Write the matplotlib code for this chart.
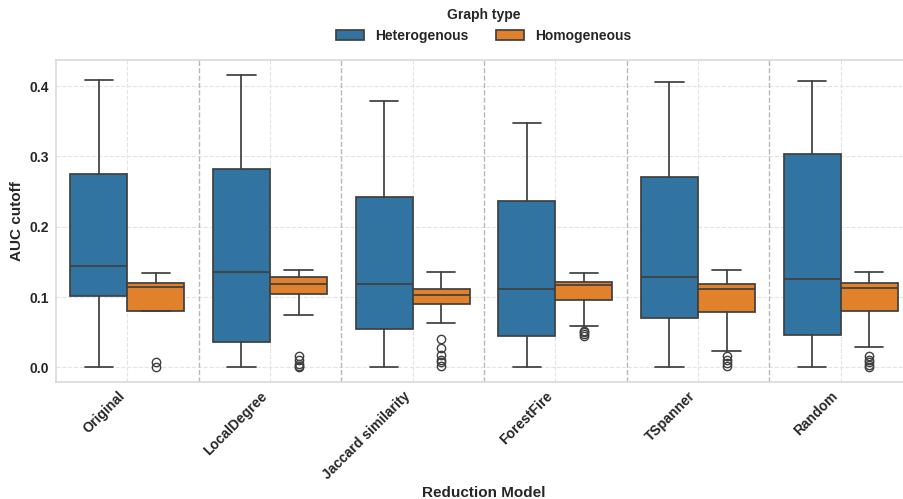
import matplotlib.pyplot as plt
import seaborn as sns

sns.set_style("whitegrid")
plt.rcParams['font.family'] = ['Liberation Sans', 'DejaVu Sans']

models = ["Original", "LocalDegree", "Jaccard similarity", "ForestFire", "TSpanner", "Random"]
graph_types = ["Heterogenous", "Homogeneous"]
colors = ["#3274a1", "#e1812c"]

# five-number summaries per model: (whislo, q1, med, q3, whishi)
hetero_stats = [
    (0.0, 0.101, 0.144, 0.275, 0.408),
    (0.0, 0.036, 0.136, 0.282, 0.415),
    (0.0, 0.055, 0.118, 0.242, 0.378),
    (0.0, 0.044, 0.112, 0.236, 0.348),
    (0.0, 0.070, 0.128, 0.270, 0.406),
    (0.0, 0.046, 0.126, 0.303, 0.407),
]
homo_stats = [
    (0.080, 0.080, 0.114, 0.120, 0.134),
    (0.074, 0.104, 0.118, 0.128, 0.138),
    (0.063, 0.090, 0.103, 0.112, 0.135),
    (0.059, 0.096, 0.117, 0.122, 0.134),
    (0.023, 0.079, 0.112, 0.119, 0.138),
    (0.029, 0.080, 0.113, 0.120, 0.135),
]
hetero_fliers = [[], [], [], [], [], []]
homo_fliers = [
    [0.0, 0.007],
    [0.0, 0.002, 0.005, 0.010, 0.016],
    [0.002, 0.007, 0.011, 0.017, 0.028, 0.040],
    [0.045, 0.047, 0.050, 0.052],
    [0.002, 0.006, 0.011, 0.016],
    [0.0, 0.003, 0.007, 0.011, 0.016],
]


def make_stats(summ, fliers):
    out = []
    for (lo, q1, med, q3, hi), fl in zip(summ, fliers):
        out.append(dict(whislo=lo, q1=q1, med=med, q3=q3, whishi=hi, fliers=fl))
    return out


fig = plt.figure(figsize=(9.04, 4.99), dpi=100)
ax = fig.add_axes([56 / 904, 117 / 499, 856 / 904, 322 / 499])

line_col = "#3f3f3f"
for k, (summ, fl) in enumerate([(hetero_stats, hetero_fliers), (homo_stats, homo_fliers)]):
    offset = -0.2 if k == 0 else 0.2
    pos = [i + offset for i in range(len(models))]
    ax.bxp(make_stats(summ, fl), positions=pos, widths=0.4, patch_artist=True,
           boxprops=dict(facecolor=colors[k], edgecolor=line_col, linewidth=1.25),
           medianprops=dict(color=line_col, linewidth=1.25),
           whiskerprops=dict(color=line_col, linewidth=1.25),
           capprops=dict(color=line_col, linewidth=1.25),
           flierprops=dict(marker='o', markerfacecolor='none', markeredgecolor=line_col,
                           markersize=6, markeredgewidth=1.0),
           capwidths=0.2, manage_ticks=False, zorder=3)

# separators between model groups
for i in range(len(models) - 1):
    ax.axvline(i + 0.5, color="#b8b8b8", linestyle="--", linewidth=1.0, zorder=1)

ax.set_xlim(-0.5, len(models) - 0.5)
ax.set_ylim(-0.0208, 0.437)
ax.set_xticks(range(len(models)))
ax.set_xticklabels(models, rotation=45, ha='right', fontweight='bold', fontsize=10)
ax.set_yticks([0.0, 0.1, 0.2, 0.3, 0.4])
ax.set_yticklabels(["0.0", "0.1", "0.2", "0.3", "0.4"], fontweight='bold', fontsize=10)
ax.tick_params(axis='both', length=0, pad=5)
ax.grid(True, linestyle='--', color='#e3e3e3', linewidth=0.8)
ax.set_axisbelow(True)
for s in ax.spines.values():
    s.set_color('#d9d9d9')
    s.set_linewidth(1.2)

ax.set_xlabel("Reduction Model", fontweight='bold', fontsize=11)
ax.xaxis.set_label_coords(0.5, -0.322)
ax.set_ylabel("AUC cutoff", fontweight='bold', fontsize=11)

handles = [plt.Rectangle((0, 0), 1, 1, facecolor=c, edgecolor=line_col, linewidth=1.25)
           for c in colors]
leg = ax.legend(handles, graph_types, title="Graph type", ncol=2, frameon=False,
                loc='lower center', bbox_to_anchor=(0.5, 1.015),
                prop=dict(weight='bold', size=10), columnspacing=2.0)
leg.get_title().set_fontweight('bold')
leg.get_title().set_fontsize(10)

fig.savefig("out.png", dpi=100)
